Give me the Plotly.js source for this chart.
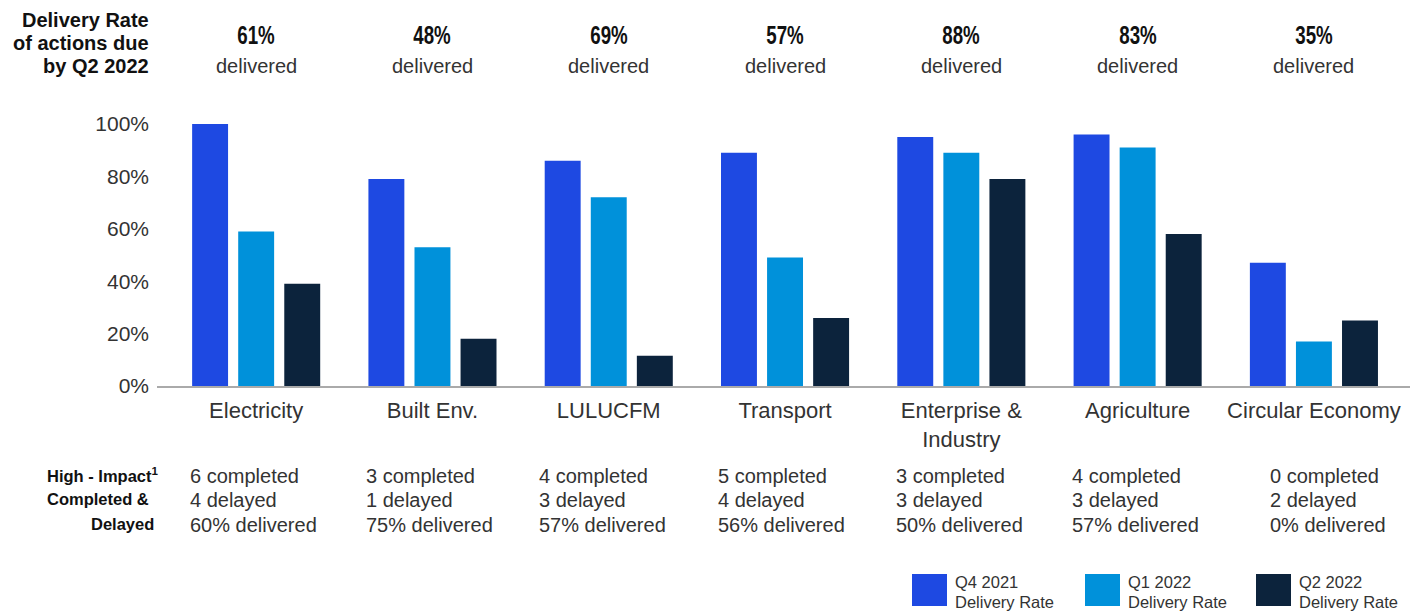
<!DOCTYPE html>
<html>
<head>
<meta charset="utf-8">
<script src="https://cdn.plot.ly/plotly-3.0.1.min.js"></script>
<style>html,body{margin:0;padding:0;background:#fff;}#chart{width:1410px;height:615px;}</style>
</head>
<body>
<div id="chart"></div>
<script>
const categories = ['Electricity', 'Built Env.', 'LULUCFM', 'Transport', 'Enterprise &<br>Industry', 'Agriculture', 'Circular Economy'];
const q4_2021 = [100, 79, 86, 89, 95, 96, 47];
const q1_2022 = [59, 53, 72, 49, 89, 91, 17];
const q2_2022 = [39, 18, 11.5, 26, 79, 58, 25];
const deliveredTop = ['61%', '48%', '69%', '57%', '88%', '83%', '35%'];
const completed = [6, 3, 4, 5, 3, 4, 0];
const delayed = [4, 1, 3, 4, 3, 3, 2];
const deliveredHigh = ['60%', '75%', '57%', '56%', '50%', '57%', '0%'];
const yTickVals = [0, 20, 40, 60, 80, 100];
const yTickText = ['0%', '20%', '40%', '60%', '80%', '100%'];
const seriesQuarter = ['Q4 2021', 'Q1 2022', 'Q2 2022'];
const seriesLabel = 'Delivery Rate';
const colors = ['#1E49E2', '#0091DA', '#0C233C'];

const W = 1410, H = 615;
const L = 157, R = 0, T = 124, B = 229;
const pw = W - L - R, ph = H - T - B;
const px = X => (X - L) / pw;
const py = Y => (H - B - Y) / ph;

const FONT = 'Liberation Sans, Arial, sans-serif';

const data = [q4_2021, q1_2022, q2_2022].map((vals, i) => ({
  type: 'bar', x: categories, y: vals, name: seriesQuarter[i] + ' ' + seriesLabel,
  marker: {color: colors[i]}, hoverinfo: 'skip'
}));

const annotations = [];
const ann = (X, Y, text, size, anchor, color) => annotations.push({
  xref: 'paper', yref: 'paper', x: px(X), y: py(Y), text: text, showarrow: false,
  xanchor: anchor, yanchor: 'middle', font: {family: FONT, size: size, color: color || '#333'}
});

categories.forEach((c, i) => {
  annotations.push({xref: 'x', yref: 'paper', x: c, y: py(35), text: '<b>' + deliveredTop[i] + '</b>',
    showarrow: false, xanchor: 'center', yanchor: 'middle', font: {family: FONT, size: 26, color: '#111'}});
  annotations.push({xref: 'x', yref: 'paper', x: c, y: py(66), text: 'delivered',
    showarrow: false, xanchor: 'center', yanchor: 'middle', font: {family: FONT, size: 20, color: '#333'}});
});

const leftX = [188, 364, 537, 716, 894, 1070, 1268];
const lineY = [476, 500, 525];
categories.forEach((c, i) => {
  const lines = [completed[i] + ' completed', delayed[i] + ' delayed', deliveredHigh[i] + ' delivered'];
  lines.forEach((t, j) => ann(leftX[i], lineY[j], t, 20, 'left'));
});

const headLines = ['Delivery Rate', 'of actions due', 'by Q2 2022'];
const headY = [20, 43, 66];
headLines.forEach((t, j) => ann(151, headY[j], '<b>' + t + '</b>', 20, 'right', '#111'));

const hiLabels = ['<b>High - Impact</b><sup><b>1</b></sup>', '<b>Completed &amp;</b>', '<b>Delayed</b>'];
const hiRight = [161, 151, 156];
hiLabels.forEach((t, j) => ann(hiRight[j], lineY[j] - 1, t, 16.5, 'right', '#111'));

const shapes = [];
const legX = [912, 1085, 1256];
legX.forEach((X, i) => {
  shapes.push({type: 'rect', xref: 'paper', yref: 'paper', x0: px(X), x1: px(X + 35), y0: py(574), y1: py(606),
    line: {width: 0}, fillcolor: colors[i]});
  ann(X + 41, 582, seriesQuarter[i], 16.5, 'left');
  ann(X + 41, 602, seriesLabel, 16.5, 'left');
});

const layout = {
  width: W, height: H,
  margin: {l: L, r: R, t: T, b: B, pad: 0},
  paper_bgcolor: '#fff', plot_bgcolor: '#fff',
  barmode: 'group', bargap: 0.216, bargroupgap: 0.22,
  showlegend: false,
  font: {family: FONT, color: '#333'},
  xaxis: {type: 'category', range: [-0.5625, 6.545], showline: true, linecolor: '#aaaaaa', linewidth: 2,
    ticks: '', showgrid: false, zeroline: false, ticklabelstandoff: 4,
    tickfont: {family: FONT, size: 22, color: '#333'}, fixedrange: true},
  yaxis: {range: [0, 100], tickmode: 'array', tickvals: yTickVals, ticktext: yTickText, showgrid: false, zeroline: false,
    showline: false, ticks: '', ticklabelstandoff: 7, tickfont: {family: FONT, size: 21, color: '#333'}, fixedrange: true},
  annotations: annotations,
  shapes: shapes
};
Plotly.newPlot('chart', data, layout, {displayModeBar: false, staticPlot: true}).then(gd => {
  // narrow the bold headline percentages to mimic the condensed typeface
  gd.querySelectorAll('.annotation text').forEach(t => {
    if (deliveredTop.includes(t.textContent)) {
      const bb = t.getBBox();
      const cx = bb.x + bb.width / 2;
      t.setAttribute('transform', 'translate(' + cx + ',0) scale(0.72,1) translate(' + (-cx) + ',0)');
    }
  });
});
</script>
</body>
</html>
